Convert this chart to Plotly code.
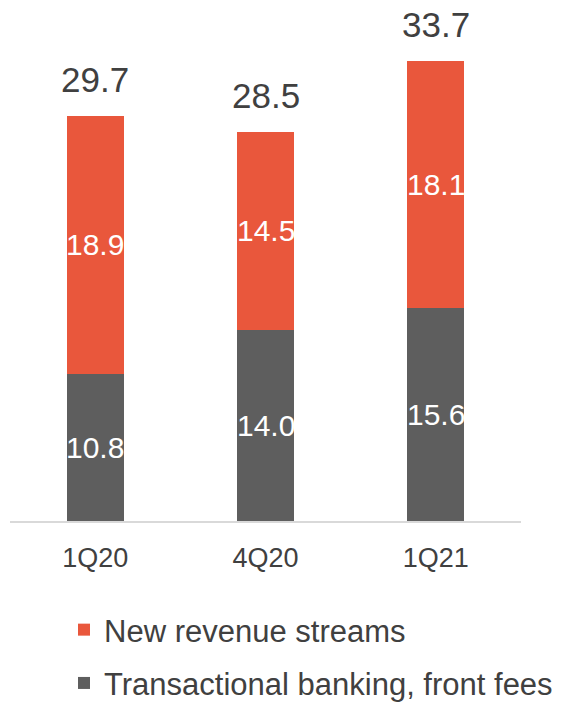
import plotly.graph_objects as go

# Quarterly fee income split by source
quarters = ["1Q20", "4Q20", "1Q21"]
transactional = [10.8, 14.0, 15.6]
new_streams = [18.9, 14.5, 18.1]
totals = [29.7, 28.5, 33.7]

GRAY = "#5e5e5e"
ORANGE = "#e9573c"
TEXT = "#404040"
FONT = "Liberation Sans, Arial, sans-serif"

fig = go.Figure()
fig.add_trace(go.Bar(
    x=quarters, y=transactional, name="Transactional banking, front fees",
    marker=dict(color=GRAY, line=dict(width=0)),
    legendgroup="b", legendrank=2,
))
fig.add_trace(go.Bar(
    x=quarters, y=new_streams, name="New revenue streams",
    marker=dict(color=ORANGE, line=dict(width=0)),
    legendgroup="a", legendrank=1,
))

# Segment values centred in each stacked piece, allowed to spill past the bar edges
label_font = dict(size=30, color="white", family=FONT)
for q, lo, hi in zip(quarters, transactional, new_streams):
    fig.add_annotation(x=q, y=lo / 2, text=f"{lo:.1f}", showarrow=False,
                       yanchor="middle", font=label_font)
    fig.add_annotation(x=q, y=lo + hi / 2, text=f"{hi:.1f}", showarrow=False,
                       yanchor="middle", font=label_font)

# Totals above each stack
for q, t in zip(quarters, totals):
    fig.add_annotation(x=q, y=t, text=f"{t:.1f}", showarrow=False,
                       yanchor="bottom", yshift=15,
                       font=dict(size=35, color=TEXT, family=FONT))

fig.update_layout(
    width=564, height=703,
    margin=dict(l=10, r=43, t=0, b=182, autoexpand=False),
    barmode="stack", bargap=0.665,
    plot_bgcolor="white", paper_bgcolor="white",
    font=dict(family=FONT, color=TEXT),
    showlegend=True,
    legend=dict(
        orientation="v", traceorder="grouped", tracegroupgap=10,
        x=(64 - 10) / 511, y=-(603 - 521) / 521, xanchor="left", yanchor="top",
        font=dict(size=31, color=TEXT, family=FONT),
        bgcolor="rgba(0,0,0,0)",
    ),
)
fig.update_xaxes(
    showline=True, linecolor="#d9d9d9", linewidth=2,
    showgrid=False, ticks="outside", ticklen=12, tickcolor="rgba(0,0,0,0)",
    tickfont=dict(size=27, color=TEXT, family=FONT), automargin=False,
)
fig.update_yaxes(range=[0, 38.17], visible=False)

fig.write_html("out.html")
